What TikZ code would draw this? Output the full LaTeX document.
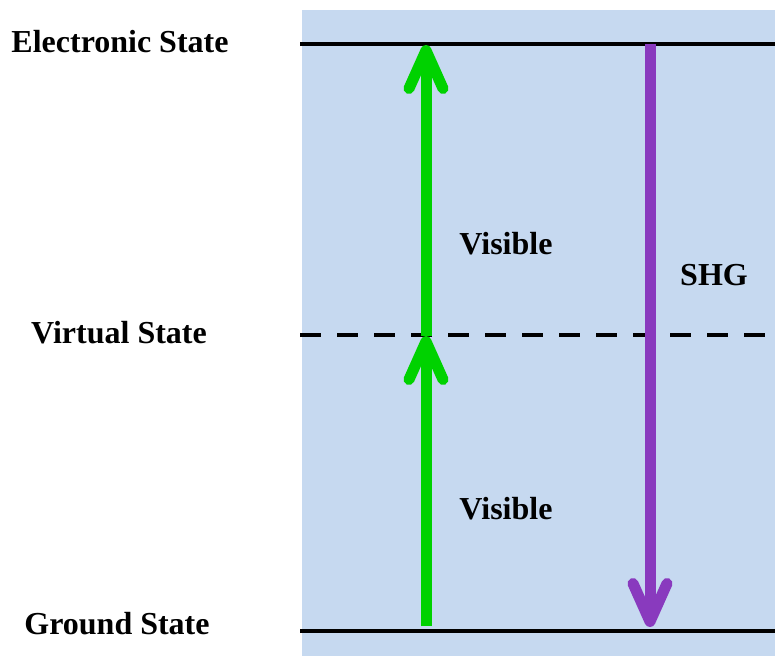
\documentclass[tikz,border=0pt]{standalone}
\usepackage{fontspec}
\setmainfont{Liberation Serif}
\usetikzlibrary{arrows.meta}
\definecolor{bgblue}{RGB}{198,217,240}
\definecolor{lasergreen}{RGB}{0,210,0}
\definecolor{shgpurple}{RGB}{137,58,190}
\begin{document}
\begin{tikzpicture}[x=1pt,y=-1pt,
		level/.style={line width=4.5pt},
		virtual/.style={line width=4.5pt,dash pattern=on 21pt off 16pt},
		label/.style={font=\fontsize{32}{36}\selectfont\bfseries,anchor=base},
		beam/.style={line width=11pt,-{Straight Barb[length=38pt,width=34pt,line cap=round,line join=round]}} ]
	\useasboundingbox (0,0) rectangle (775,656);
	\fill[bgblue] (302,10) rectangle (775,656);
	% energy levels
	\coordinate (e1) at (300,44);  \coordinate (e2) at (775,44);
	\coordinate (v1) at (300,335); \coordinate (v2) at (775,335);
	\coordinate (g1) at (300,631); \coordinate (g2) at (775,631);
	\draw[level] (e1) -- (e2);
	\draw[virtual] (v1) -- (v2);
	\draw[level] (g1) -- (g2);
	\node[label] (elec) at (120,52) {Electronic State};
	\node[label] (virt) at (119,343) {Virtual State};
	\node[label] (grnd) at (117,634) {Ground State};
	% transitions
	\coordinate (gs) at (426,626);
	\coordinate (vs) at (426,336);
	\coordinate (es) at (426,45);
	\draw[beam,lasergreen] (gs) -- (vs);
	\draw[beam,lasergreen] (vs) -- (es);
	\coordinate (ps) at (650,44);
	\coordinate (pe) at (650,627);
	\draw[beam,shgpurple] (ps) -- (pe);
	\node[label] (vis1) at (506,254) {Visible};
	\node[label] (vis2) at (506,519) {Visible};
	\node[label] (shg) at (714,285) {SHG};
\end{tikzpicture}
\end{document}
